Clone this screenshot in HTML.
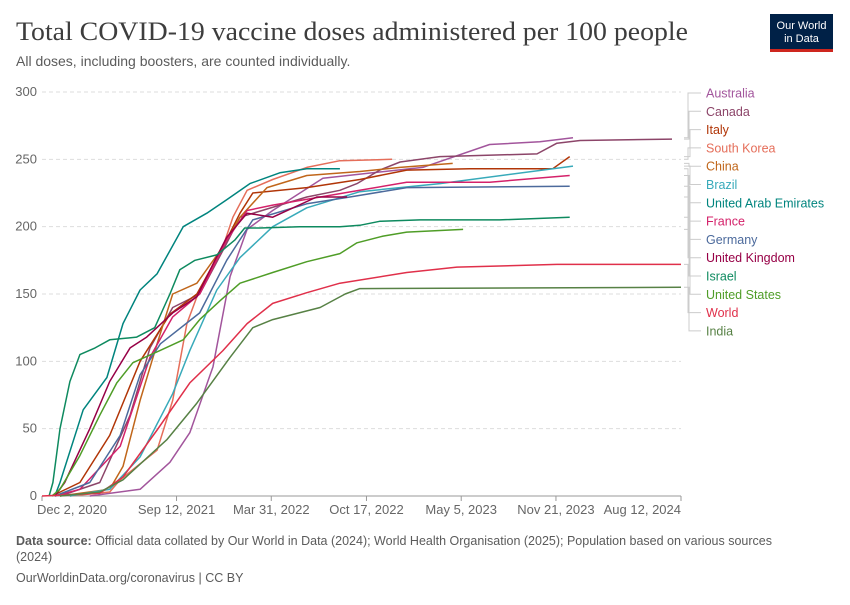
<!DOCTYPE html>
<html><head><meta charset="utf-8">
<style>
body{margin:0;background:#fff;width:850px;height:600px;overflow:hidden;font-family:"Liberation Sans",sans-serif;}
svg text{font-family:"Liberation Sans",sans-serif;}
</style></head>
<body>
<svg id="chart" width="850" height="600" viewBox="0 0 850 600" xmlns="http://www.w3.org/2000/svg">
<text x="16" y="40" font-family="Liberation Serif,serif" style="font-family:'Liberation Serif',serif" font-size="26" fill="#3d3d3d" textLength="672" lengthAdjust="spacingAndGlyphs">Total COVID-19 vaccine doses administered per 100 people</text>
<text x="16" y="66" font-size="14" fill="#5b5b5b">All doses, including boosters, are counted individually.</text>
<g>
<rect x="770" y="14" width="63" height="36" fill="#002147"/>
<rect x="770" y="49" width="63" height="3" fill="#ce261e"/>
<text x="801.5" y="29" font-size="11" fill="#fff" text-anchor="middle">Our World</text>
<text x="801.5" y="42" font-size="11" fill="#fff" text-anchor="middle">in Data</text>
</g>
<g id="grid"></g>
<g id="xaxis"></g>
<g id="lines"></g>
<g id="legend"></g>
<text x="16" y="545" font-size="12.5" fill="#5b5b5b"><tspan font-weight="bold">Data source:</tspan> Official data collated by Our World in Data (2024); World Health Organisation (2025); Population based on various sources</text>
<text x="16" y="561" font-size="12.5" fill="#5b5b5b">(2024)</text>
<text x="16" y="582" font-size="12.5" fill="#5b5b5b">OurWorldinData.org/coronavirus | CC BY</text>
</svg>
<script>
const NS="http://www.w3.org/2000/svg";
const yTicks=[0,50,100,150,200,250,300];
const xTickDays=[0,284,484,685,885,1085,1349];
const xTickLabels=["Dec 2, 2020","Sep 12, 2021","Mar 31, 2022","Oct 17, 2022","May 5, 2023","Nov 21, 2023","Aug 12, 2024"];
const countries=["Australia","Canada","Italy","South Korea","China","Brazil","United Arab Emirates","France","Germany","United Kingdom","Israel","United States","World","India"];
const colors=["#a2559c","#8c4569","#b13507","#e56e5a","#c0661a","#38aaba","#00847e","#d4216a","#4c6a9c","#970046","#0e8a5f","#4f9d27","#e0304a","#578145"];
// series: [day since Dec 2 2020, doses per 100]
const australia=[[101,0],[207,5],[270,25],[312,47],[361,96],[397,163],[433,198],[487,212],[593,236],[698,240],[804,244],[945,261],[1051,263],[1121,266]];
const canada=[[38,0],[122,10],[186,60],[228,110],[276,140],[333,150],[386,185],[418,207],[559,222],[629,227],[665,232],[713,242],[756,248],[840,252],[1045,254],[1087,262],[1136,264],[1330,265]];
const italy=[[21,0],[80,10],[143,45],[207,100],[270,135],[327,150],[382,185],[418,210],[445,225],[559,229],[671,235],[770,242],[903,243],[1078,243],[1114,252]];
const southKorea=[[59,0],[143,3],[165,12],[243,34],[276,71],[306,128],[327,148],[382,185],[403,207],[433,227],[487,235],[559,244],[629,249],[739,250]];
const china=[[38,0],[143,5],[171,22],[207,71],[243,113],[276,150],[327,158],[382,185],[418,207],[475,229],[559,238],[671,241],[756,244],[867,247]];
const brazil=[[59,0],[143,5],[207,29],[276,76],[312,108],[369,153],[418,177],[487,200],[559,214],[671,226],[840,232],[1121,245]];
const uae=[[27,0],[38,10],[87,64],[137,88],[171,128],[207,153],[243,165],[298,200],[348,210],[390,220],[439,232],[502,240],[559,243],[629,243]];
const france=[[27,0],[80,5],[165,37],[228,103],[276,133],[333,150],[390,190],[433,212],[487,216],[671,227],[770,233],[945,233],[1114,238]];
const germany=[[27,0],[101,10],[165,45],[207,90],[250,113],[333,136],[390,175],[445,205],[559,217],[650,222],[770,229],[1114,230]];
const uk=[[27,0],[48,10],[101,50],[143,85],[186,110],[221,118],[276,136],[327,148],[365,175],[390,192],[433,210],[487,207],[530,214],[580,222],[644,222]];
const israel=[[15,0],[23,10],[38,50],[59,85],[80,105],[112,110],[143,116],[200,118],[238,125],[270,150],[291,168],[323,175],[369,179],[407,190],[428,199],[460,199],[544,200],[629,200],[671,201],[713,204],[798,205],[966,205],[1114,207]];
const us=[[21,0],[38,5],[80,30],[122,60],[158,84],[192,99],[249,108],[298,116],[333,131],[376,145],[418,158],[487,166],[559,174],[629,180],[665,188],[720,193],[770,196],[889,198]];
const world=[[0,0],[122,2],[171,14],[243,49],[312,84],[382,108],[433,128],[487,143],[559,151],[629,158],[770,166],[876,170],[1087,172],[1349,172]];
const india=[[38,0],[122,3],[171,12],[264,42],[327,69],[397,103],[445,125],[487,131],[587,140],[640,150],[671,154],[1349,155]];
const series=[australia,canada,italy,southKorea,china,brazil,uae,france,germany,uk,israel,us,world,india];

const X0=42,X1=681,Y0=496,Y1=92,DMAX=1349,VMAX=300;
const xs=d=>X0+(X1-X0)*d/DMAX;
const ys=v=>Y0-(Y0-Y1)*v/VMAX;
function mk(tag,attrs,parent){const e=document.createElementNS(NS,tag);for(const k in attrs)e.setAttribute(k,attrs[k]);parent.appendChild(e);return e;}

const grid=document.getElementById('grid');
yTicks.forEach(t=>{
  if(t>0){const l=mk('line',{x1:X0,x2:X1,y1:ys(t),y2:ys(t),stroke:'#ddd','stroke-dasharray':'4,3'},grid);
  
  }
  const tx=mk('text',{x:37,y:ys(t)+4,'text-anchor':'end','font-size':13,fill:'#666'},grid);
  tx.textContent=t;
  
  
});
const xa=document.getElementById('xaxis');
const axl=mk('line',{x1:X0,x2:X1,y1:Y0,y2:Y0,stroke:'#999'},xa);


xTickDays.forEach((d,i)=>{
  const tk=mk('line',{x1:xs(d),x2:xs(d),y1:Y0,y2:Y0+5,stroke:'#999'},xa);
  
  
  let anchor='middle',x=xs(d);
  if(i===0){x=xs(d)+30;}
  if(i===xTickDays.length-1){anchor='end';x=xs(d);}
  const t=mk('text',{x:x,y:514,'text-anchor':anchor,'font-size':13,fill:'#666'},xa);
  t.textContent=xTickLabels[i];
  
  
});
const lg=document.getElementById('lines');
series.forEach((s,i)=>{
  const d=s.map((p,j)=>(j?'L':'M')+xs(p[0]).toFixed(1)+','+ys(p[1]).toFixed(1)).join('');
  const p=mk('path',{d:d,fill:'none',stroke:colors[i],'stroke-width':1.5,'stroke-linejoin':'round'},lg);
  
  
});
const leg=document.getElementById('legend');
const order=countries.map((c,i)=>i).sort((a,b)=>series[b][series[b].length-1][1]-series[a][series[a].length-1][1]);
countries.forEach((c,i)=>{
  const ly=93+i*18.3;
  const endV=series[i][series[i].length-1][1];
  const rank=order.indexOf(i);
  const bx=688+ (rank%3);
  const con=mk('path',{d:`M684,${ys(endV).toFixed(1)}H${bx}V${ly.toFixed(1)}H701`,fill:'none',stroke:'#ccc','stroke-width':1},leg);
  
  
  const t=mk('text',{x:706,y:ly+4.5,'font-size':12.5,fill:colors[i]},leg);
  t.textContent=c;
  
  
});
</script>
</body></html>
